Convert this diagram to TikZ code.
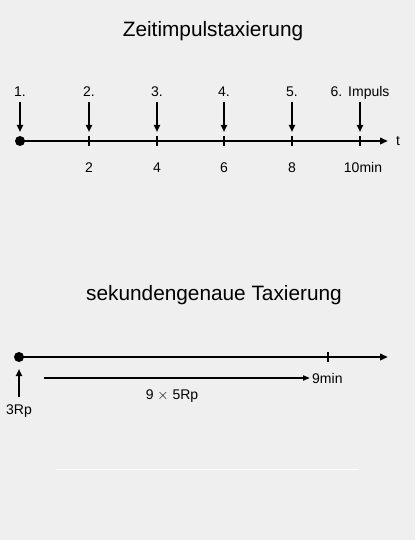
\documentclass[tikz,border=0pt]{standalone}
\usepackage{fontspec}
\setmainfont{Liberation Sans}
\usetikzlibrary{arrows.meta}
\definecolor{bg}{HTML}{EFEFEF}
\begin{document}
\begin{tikzpicture}[x=1pt,y=-1pt,
  ttl/.style={font=\fontsize{20.8}{24}\selectfont, inner sep=0pt, anchor=base},
  lbl/.style={font=\fontsize{14}{16}\selectfont, inner sep=0pt, anchor=base},
  ax/.style={line width=2pt, -{Triangle[length=8pt,width=6.5pt]}},
  arr/.style={line width=1.8pt, -{Triangle[length=7pt,width=6pt]}},
  tck/.style={line width=2pt},
  dot/.style={circle, fill=black, inner sep=0pt, minimum size=10pt}]
\fill[bg] (0,0) rectangle (415,540);
\useasboundingbox (0,0) rectangle (415,540);
% ---------- top
\node[ttl] (t1) at (213,36.5) {Zeitimpulstaxierung};
\node[dot] (o1) at (20,141) {};
\coordinate (e1) at (388,141);
\draw[ax] (o1.center) -- (e1);
\node[lbl, anchor=west] (tt) at (396,141) {t};
\foreach \x/\n [count=\i] in {89/2,157/4,224/6,292/8} {
  \coordinate (k\i a) at (\x,136);
  \coordinate (k\i b) at (\x,146);
  \draw[tck] (k\i a) -- (k\i b);
  \node[lbl] (n\i) at (\x,172) {\n};
}
\coordinate (k5a) at (360,136);
\coordinate (k5b) at (360,146);
\draw[tck] (k5a) -- (k5b);
\node[lbl] (n5) at (363,172) {10min};
\foreach \x/\m [count=\i] in {20/1.,89/2.,157/3.,224/4.,292/5.} {
  \node[lbl] (p\i) at (\x,96.5) {\m};
  \coordinate (q\i a) at (\x,102);
  \coordinate (q\i b) at (\x,132);
  \draw[arr] (q\i a) -- (q\i b);
}
\node[lbl] (p6) at (360,96.5) {6.\hspace{6pt}Impuls};
\coordinate (q6a) at (360,102);
\coordinate (q6b) at (360,132);
\draw[arr] (q6a) -- (q6b);
% ---------- bottom
\node[ttl] (t2) at (214,300) {sekundengenaue Taxierung};
\node[dot] (o2) at (19,357) {};
\coordinate (e2) at (388,357);
\draw[ax] (o2.center) -- (e2);
\coordinate (m1) at (328,352);
\coordinate (m2) at (328,362);
\draw[tck] (m1) -- (m2);
\coordinate (u1) at (19,397);
\coordinate (u2) at (19,369);
\draw[arr] (u1) -- (u2);
\node[lbl] (r3) at (19,414) {3Rp};
\coordinate (h1) at (44,378);
\coordinate (h2) at (310,378);
\draw[line width=1.6pt, -{Triangle[length=7pt,width=5pt]}] (h1) -- (h2);
\node[lbl, anchor=west] (nine) at (312,378) {9min};
\node[lbl] (r9) at (172,399) {9 $\times$ 5Rp};
% white line
\coordinate (w1) at (56,469);
\coordinate (w2) at (359,469);
\draw[white, line width=1pt] (w1) -- (w2);
\end{tikzpicture}
\end{document}
